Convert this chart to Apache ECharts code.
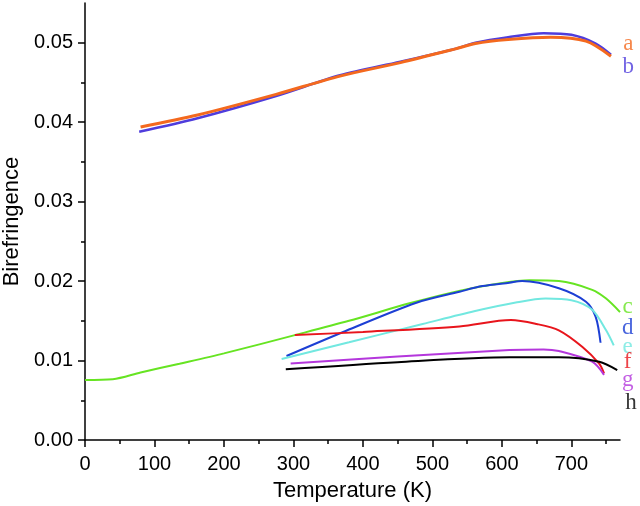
<!DOCTYPE html>
<html>
<head>
<meta charset="utf-8">
<script src="https://cdn.jsdelivr.net/npm/echarts@6/dist/echarts.min.js"></script>
<style>
html, body { margin: 0; padding: 0; background: #fff; }
#chart { width: 640px; height: 506px; }
</style>
</head>
<body>
<div id="chart"></div>
<script>
// curve data: temperature (K) and birefringence
var tA = [80, 162, 275, 367, 454, 532, 562, 609, 670, 721, 757];
var nA = [0.0394, 0.0409, 0.0435, 0.0458, 0.0475, 0.0492, 0.0499, 0.0504, 0.0507, 0.0502, 0.0483];
var tB = [78, 162, 275, 367, 454, 532, 562, 609, 660, 700, 735, 757];
var nB = [0.0388, 0.0405, 0.0433, 0.0459, 0.0476, 0.0492, 0.0500, 0.0507, 0.0512, 0.0510, 0.0499, 0.0485];
var tC = [0, 40, 80, 136, 200, 302, 380, 467, 540, 596, 640, 682, 730, 750, 770];
var nC = [0.00755, 0.00765, 0.0085, 0.0096, 0.0109, 0.0132, 0.0150, 0.0172, 0.0188, 0.0197, 0.0201, 0.0200, 0.0189, 0.0178, 0.0161];
var tD = [290, 376, 477, 539, 572, 611, 629, 682, 721, 735, 742];
var nD = [0.01057, 0.01375, 0.01727, 0.01866, 0.01937, 0.0198, 0.0200, 0.0191, 0.0174, 0.0155, 0.01224];
var tE = [283, 380, 486, 560, 620, 663, 700, 730, 750, 761];
var nE = [0.0102, 0.0123, 0.0146, 0.0162, 0.0173, 0.0178, 0.0176, 0.0164, 0.0138, 0.0119];
var tF = [302, 400, 539, 613, 650, 682, 716, 740, 747];
var nF = [0.0132, 0.0136, 0.0143, 0.0151, 0.0146, 0.0138, 0.0117, 0.0096, 0.0084];
var tG = [296, 450, 611, 660, 682, 730, 747];
var nG = [0.00964, 0.0105, 0.01132, 0.0114, 0.0112, 0.00985, 0.0082];
var tH = [289, 450, 611, 682, 740, 766];
var nH = [0.0089, 0.0098, 0.0104, 0.0104, 0.00985, 0.0088];

// curve letters and where they sit
var tagText = ['a', 'b', 'c', 'd', 'e', 'f', 'g', 'h'];
var tagT = [782, 782, 781, 781, 781, 781, 781, 786];
var tagN = [0.0498, 0.0470, 0.0167, 0.0141, 0.0117, 0.0098, 0.0075, 0.0047];

// ticks
var xTicks = [0, 100, 200, 300, 400, 500, 600, 700];
var xMinor = [50, 150, 250, 350, 450, 550, 650, 750];
var yTicks = [0, 0.01, 0.02, 0.03, 0.04, 0.05];
var yMinor = [0.005, 0.015, 0.025, 0.035, 0.045];

var colors = ['#f4691e', '#4f3ddc', '#66e422', '#1c3fd4', '#72e8e0', '#e8151c', '#b437dc', '#000000'];
var widths = [3, 2.5, 2, 2, 2, 2, 2, 2];

var chart = echarts.init(document.getElementById('chart'));

function pairs(t, n) {
    var res = [];
    for (var i = 0; i < t.length; i++) res.push([t[i], n[i]]);
    return res;
}

var curves = [[tA, nA], [tB, nB], [tC, nC], [tD, nD], [tE, nE], [tF, nF], [tG, nG], [tH, nH]];
var series = [];
for (var i = 0; i < curves.length; i++) {
    series.push({
        type: 'line',
        data: pairs(curves[i][0], curves[i][1]),
        smooth: 0.3,
        symbol: 'none',
        z: i === 0 ? 3 : 2,
        lineStyle: { color: colors[i], width: widths[i] }
    });
}

var tags = [];
for (var k = 0; k < tagText.length; k++) {
    tags.push({
        value: [tagT[k], tagN[k]],
        label: { formatter: tagText[k], color: colors[k] }
    });
}
series.push({
    type: 'scatter',
    data: tags,
    symbolSize: 0,
    clip: false,
    silent: true,
    label: {
        show: true,
        position: 'inside',
        fontFamily: 'Liberation Serif',
        fontSize: 23
    }
});

var axisText = { color: '#000', fontFamily: 'Liberation Sans', fontSize: 20 };

var option = {
    backgroundColor: '#fff',
    animation: false,
    grid: { left: 85, right: 20, top: 3, bottom: 66, containLabel: false, outerBoundsMode: 'none' },
    xAxis: [{
        type: 'value',
        min: 0,
        max: 770,
        name: 'Temperature (K)',
        nameLocation: 'middle',
        nameGap: 40,
        nameTextStyle: { color: '#000', fontFamily: 'Liberation Sans', fontSize: 22 },
        splitLine: { show: false },
        axisLine: { lineStyle: { color: '#000', width: 1.5 } },
        axisTick: { customValues: xTicks, length: 7, lineStyle: { color: '#000', width: 1.5 } },
        axisLabel: Object.assign({ customValues: xTicks, margin: 14 }, axisText)
    }, {
        type: 'value',
        min: 0,
        max: 770,
        position: 'bottom',
        splitLine: { show: false },
        axisLine: { show: false },
        axisTick: { customValues: xMinor, length: 4, lineStyle: { color: '#000', width: 1.5 } },
        axisLabel: { show: false }
    }],
    yAxis: [{
        type: 'value',
        min: 0,
        max: 0.055,
        name: 'Birefringence',
        nameLocation: 'middle',
        nameGap: 58,
        nameTextStyle: { color: '#000', fontFamily: 'Liberation Sans', fontSize: 22 },
        splitLine: { show: false },
        axisLine: { lineStyle: { color: '#000', width: 1.5 } },
        axisTick: { customValues: yTicks, length: 7, lineStyle: { color: '#000', width: 1.5 } },
        axisLabel: Object.assign({
            customValues: yTicks,
            margin: 12,
            formatter: function (v) { return v.toFixed(2); }
        }, axisText)
    }, {
        type: 'value',
        min: 0,
        max: 0.055,
        position: 'left',
        splitLine: { show: false },
        axisLine: { show: false },
        axisTick: { customValues: yMinor, length: 4, lineStyle: { color: '#000', width: 1.5 } },
        axisLabel: { show: false }
    }],
    series: series
};

chart.setOption(option);
</script>
</body>
</html>
